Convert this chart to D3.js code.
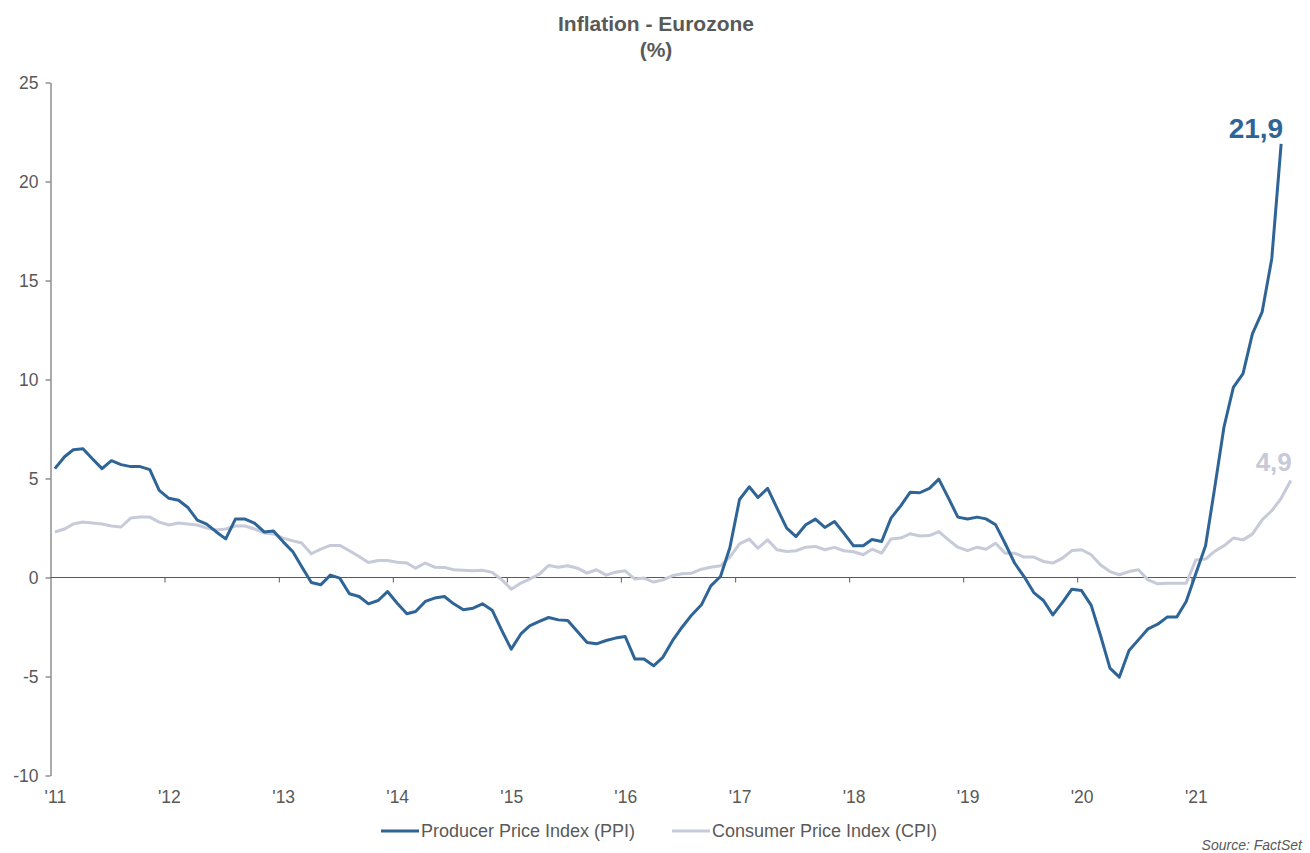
<!DOCTYPE html>
<html>

<head>
    <meta charset="utf-8">
    <style>
        body {
            margin: 0;
            background: #fff;
        }

        svg {
            font-family: Arial, "Liberation Sans", sans-serif;
        }

        .title {
            fill: #595959;
            font-weight: bold;
            font-size: 21px;
            text-anchor: middle;
        }

        .axis text {
            fill: #595959;
            font-size: 17.5px;
        }

        .axis line,
        .axis path {
            stroke: #595959;
        }

        .zero {
            stroke: #595959;
            stroke-width: 1px;
        }

        .line {
            fill: none;
            stroke-width: 3px;
            stroke-linejoin: round;
        }

        .legend text {
            fill: #595959;
            font-size: 18px;
        }

        .source {
            fill: #595959;
            font-size: 14px;
            font-style: italic;
            text-anchor: end;
        }

        .end-label {
            font-weight: bold;
            text-anchor: end;
        }
    </style>
    <script src="https://d3js.org/d3.v7.min.js"></script>
    <title>Inflation - Eurozone</title>
</head>

<body>
    <svg id="chart" width="1310" height="853"></svg>
    <script>

        // monthly y/y %, Jan 2011 onwards
        var startYear = 2011;

        var ppi = [
            5.5, 6.1, 6.45, 6.5, 6.0, 5.5, 5.9, 5.7, 5.6, 5.6, 5.45, 4.4,
            4.0, 3.9, 3.55, 2.9, 2.7, 2.3, 1.95, 2.95, 2.95, 2.75, 2.3, 2.35,
            1.8, 1.3, 0.55, -0.25, -0.37, 0.12, -0.03, -0.82, -0.96, -1.33, -1.16, -0.71,
            -1.3, -1.83, -1.72, -1.21, -1.04, -0.96, -1.33, -1.63, -1.55, -1.33, -1.65, -2.64,
            -3.62, -2.85, -2.44, -2.22, -2.02, -2.14, -2.17, -2.73, -3.28, -3.35, -3.18, -3.06,
            -2.98, -4.12, -4.12, -4.46, -4.02, -3.18, -2.51, -1.89, -1.38, -0.42, 0.05, 1.5,
            3.94, 4.58, 4.04, 4.5, 3.5, 2.49, 2.07, 2.66, 2.95, 2.53, 2.83, 2.24,
            1.6, 1.6, 1.92, 1.82, 3.0, 3.62, 4.3, 4.28, 4.5, 4.97, 4.01, 3.05,
            2.95, 3.05, 2.96, 2.66, 1.73, 0.72, 0.05, -0.76, -1.16, -1.89, -1.26, -0.59,
            -0.66, -1.41, -2.89, -4.58, -5.03, -3.69, -3.15, -2.59, -2.36, -2.0, -2.0, -1.21,
            0.2, 1.6, 4.4, 7.6, 9.6, 10.3, 12.3, 13.4, 16.1, 21.9
        ];

        var cpi = [
            2.3, 2.45, 2.7, 2.8, 2.75, 2.7, 2.6, 2.55, 3.0, 3.05, 3.05, 2.8,
            2.65, 2.75, 2.7, 2.65, 2.5, 2.4, 2.45, 2.6, 2.6, 2.45, 2.25, 2.2,
            1.99, 1.85, 1.74, 1.2, 1.43, 1.62, 1.62, 1.35, 1.06, 0.76, 0.86, 0.86,
            0.77, 0.73, 0.47, 0.73, 0.52, 0.51, 0.39, 0.36, 0.34, 0.37, 0.26, -0.1,
            -0.59, -0.28, -0.08, 0.17, 0.61, 0.52, 0.59, 0.47, 0.22, 0.39, 0.12, 0.27,
            0.34, -0.08, -0.03, -0.23, -0.12, 0.1, 0.19, 0.22, 0.42, 0.52, 0.59, 1.03,
            1.7, 1.94, 1.48, 1.9, 1.4, 1.31, 1.35, 1.53, 1.57, 1.4, 1.52, 1.35,
            1.3, 1.15, 1.43, 1.23, 1.95, 1.99, 2.21, 2.1, 2.12, 2.32, 1.9, 1.53,
            1.36, 1.53, 1.43, 1.73, 1.23, 1.23, 1.03, 1.03, 0.81, 0.73, 0.98, 1.36,
            1.4, 1.15, 0.64, 0.3, 0.14, 0.3, 0.39, -0.12, -0.32, -0.29, -0.29, -0.29,
            0.89, 0.93, 1.31, 1.6, 1.99, 1.9, 2.19, 2.91, 3.37, 4.0, 4.9
        ];

        var yearLabels = ["'11", "'12", "'13", "'14", "'15", "'16", "'17", "'18", "'19", "'20", "'21"];
        var yTicks = [-10, -5, 0, 5, 10, 15, 20, 25];
        var seriesNames = ["Producer Price Index (PPI)", "Consumer Price Index (CPI)"];
        var colors = ["#2e6496", "#c6cad9"];

        function monthDate(i) {
            return new Date(Date.UTC(startYear, i, 15));
        }

        function createLineChart() {
            var svg = d3.select("svg#chart");

            // ranges
            var x = d3.scaleUtc()
                .domain([new Date(Date.UTC(startYear, 0, 1)), new Date(Date.UTC(startYear + yearLabels.length, 0, 1))])
                .range([50.5, 1305.5]);
            var y = d3.scaleLinear().domain([-10, 25]).range([775.5, 82.5]);

            // title
            svg.append("text").attr("class", "title")
                .attr("x", 656).attr("y", 31).text("Inflation - Eurozone");
            svg.append("text").attr("class", "title")
                .attr("x", 656).attr("y", 57).text("(%)");

            // y axis (plain hyphen for negatives, like the original)
            svg.append("g")
                .attr("class", "axis")
                .attr("transform", "translate(50.5,0)")
                .call(d3.axisLeft(y).tickValues(yTicks).tickSize(5).tickSizeOuter(0).tickPadding(7)
                    .tickFormat(function (d) { return String(d); }));

            // zero line with year ticks
            var yearStarts = yearLabels.map(function (d, i) { return new Date(Date.UTC(startYear + i, 0, 1)); });
            var xTicks = svg.append("g")
                .attr("class", "axis")
                .attr("transform", "translate(0," + y(0) + ")")
                .call(d3.axisBottom(x).tickValues(yearStarts.slice(1)).tickSize(5).tickFormat(""));
            xTicks.select(".domain").remove();

            svg.append("line")
                .attr("class", "zero")
                .attr("x1", x.range()[0]).attr("x2", x(new Date(Date.UTC(2021, 11, 1))))
                .attr("y1", y(0)).attr("y2", y(0));

            // year labels along the bottom
            var labelDates = yearLabels.map(function (d, i) { return new Date(Date.UTC(startYear + i, 0, 15)); });
            var xLabels = svg.append("g")
                .attr("class", "axis")
                .attr("transform", "translate(0,788)")
                .call(d3.axisBottom(x).tickValues(labelDates).tickSize(0).tickPadding(3)
                    .tickFormat(function (d, i) { return yearLabels[i]; }));
            xLabels.select(".domain").remove();

            // lines
            var valueline = d3.line()
                .x(function (d, i) { return x(monthDate(i)); })
                .y(function (d) { return y(d); });

            svg.append("path")
                .datum(cpi)
                .attr("class", "line")
                .attr("stroke", colors[1])
                .attr("d", valueline);

            svg.append("path")
                .datum(ppi)
                .attr("class", "line")
                .attr("stroke", colors[0])
                .attr("d", valueline);

            // end labels
            var lastP = ppi.length - 1, lastC = cpi.length - 1;
            svg.append("text").attr("class", "end-label")
                .attr("x", x(monthDate(lastP)) + 2).attr("y", y(ppi[lastP]) - 6)
                .attr("fill", colors[0]).attr("font-size", "28px")
                .text(d3.format(".1f")(ppi[lastP]).replace(".", ","));
            svg.append("text").attr("class", "end-label")
                .attr("x", x(monthDate(lastC)) + 1).attr("y", y(cpi[lastC]) - 9)
                .attr("fill", colors[1]).attr("font-size", "26px")
                .text(d3.format(".1f")(cpi[lastC]).replace(".", ","));

            // legend
            var legend = svg.append("g").attr("class", "legend");
            var legendX = [381, 672];
            seriesNames.forEach(function (name, i) {
                legend.append("line")
                    .attr("x1", legendX[i]).attr("x2", legendX[i] + 38)
                    .attr("y1", 831).attr("y2", 831)
                    .attr("stroke", colors[i]).attr("stroke-width", 3);
                legend.append("text")
                    .attr("x", legendX[i] + 40).attr("y", 831)
                    .attr("dy", "0.35em")
                    .text(name);
            });

            svg.append("text").attr("class", "source")
                .attr("x", 1302).attr("y", 850)
                .text("Source: FactSet");
        }

        createLineChart();

    </script>
</body>

</html>
